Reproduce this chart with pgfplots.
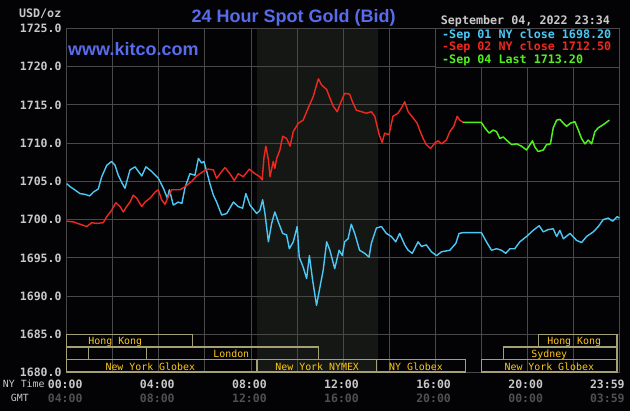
\documentclass[border=0pt]{standalone}
\usepackage{pgfplots}
\pgfplotsset{compat=1.18}
\usepackage{fontspec}
\newfontfamily\dmono{DejaVu Sans Mono}
\newfontfamily\lsans{Liberation Sans}
\definecolor{bg}{RGB}{3,3,6}
\definecolor{nymexbg}{RGB}{21,23,21}
\definecolor{gridgray}{RGB}{72,72,72}
\definecolor{labelgray}{RGB}{200,200,200}
\definecolor{gmtgray}{RGB}{80,80,80}
\definecolor{titleblue}{RGB}{88,108,235}
\definecolor{cyanl}{RGB}{75,200,245}
\definecolor{redl}{RGB}{240,40,30}
\definecolor{greenl}{RGB}{80,240,30}
\definecolor{boxk}{RGB}{165,160,115}
\definecolor{gold}{RGB}{255,200,20}
\newcommand\monob{\dmono\bfseries\fontsize{11.5}{14}\selectfont}
\newcommand\sess{\dmono\fontsize{9.9}{12}\selectfont\color{gold}}
\newcommand\tlab[2]{\textcolor{labelgray}{#1}\\\textcolor{gmtgray}{#2}}
\begin{document}
\begin{tikzpicture}
\useasboundingbox (0,0) rectangle (630pt,411pt);
\fill[bg] (0,0) rectangle (630pt,411pt);
\fill[nymexbg] (256.7pt,38.3pt) rectangle (377.8pt,382.7pt);
\begin{axis}[
  at={(66.7pt,38.3pt)}, anchor=south west,
  width=552.6pt, height=344.4pt, scale only axis,
  xmin=0, xmax=24, ymin=1680, ymax=1725,
  clip=false,
  xtick={0,2,4,6,8,10,12,14,16,18,20,22,24},
  xticklabels={{\tlab{00:00}{04:00}},{},{\tlab{04:00}{08:00}},{},{\tlab{08:00}{12:00}},{},{\tlab{12:00}{16:00}},{},{\tlab{16:00}{20:00}},{},{\tlab{20:00}{00:00}},{},{}},
  ytick={1680,1685,1690,1695,1700,1705,1710,1715,1720,1725},
  yticklabels={1680.0,1685.0,1690.0,1695.0,1700.0,1705.0,1710.0,1715.0,1720.0,1725.0},
  grid=major,
  major grid style={draw=gridgray, line width=0.8pt},
  axis line style={draw=gridgray, line width=0.8pt},
  major tick length=0pt,
  yticklabel style={font=\monob, text=labelgray, anchor=east, inner sep=0pt, xshift=-5pt},
  xticklabel style={font=\monob, anchor=north, inner sep=0pt, yshift=-7pt, xshift=-1.5pt, align=center},
]
% session boxes
\draw[boxk, line width=1.2pt] (axis cs:0,1685) rectangle (axis cs:5.47,1683.35);
\draw[boxk, line width=1.2pt] (axis cs:20.48,1685) rectangle (axis cs:23.9,1683.35);
\draw[boxk, line width=1.2pt] (axis cs:0,1683.35) rectangle (axis cs:0.94,1681.7);
\draw[boxk, line width=1.2pt] (axis cs:0.94,1683.35) rectangle (axis cs:3.47,1681.7);
\draw[boxk, line width=1.2pt] (axis cs:3.47,1683.35) rectangle (axis cs:10.92,1681.7);
\draw[boxk, line width=1.2pt] (axis cs:18.96,1683.35) rectangle (axis cs:23.9,1681.7);
\draw[boxk, line width=1.2pt] (axis cs:0,1681.7) rectangle (axis cs:8.25,1680.1);
\draw[boxk, line width=1.2pt] (axis cs:8.25,1681.7) rectangle (axis cs:13.46,1680.1);
\draw[boxk, line width=2pt] (axis cs:8.27,1681.7) -- (axis cs:8.27,1680.1);
\draw[boxk, line width=1.2pt] (axis cs:13.46,1681.7) rectangle (axis cs:17.33,1680.1);
\draw[boxk, line width=1.2pt] (axis cs:18.02,1681.7) rectangle (axis cs:23.9,1680.1);
\node[anchor=base, inner sep=0pt] at (axis cs:2.11,1683.71) {\sess Hong Kong};
\node[anchor=base, inner sep=0pt] at (axis cs:22.04,1683.71) {\sess Hong Kong};
\node[anchor=base, inner sep=0pt] at (axis cs:7.15,1682.01) {\sess London};
\node[anchor=base, inner sep=0pt] at (axis cs:20.96,1682.01) {\sess Sydney};
\node[anchor=base, inner sep=0pt] at (axis cs:3.63,1680.35) {\sess New York Globex};
\node[anchor=base, inner sep=0pt] at (axis cs:10.88,1680.35) {\sess New York NYMEX};
\node[anchor=base, inner sep=0pt] at (axis cs:15.17,1680.35) {\sess NY Globex};
\node[anchor=base, inner sep=0pt] at (axis cs:20.96,1680.35) {\sess New York Globex};
\node[font=\monob, anchor=north, inner sep=0pt, align=center] at ([yshift=-7pt]axis cs:23.48,1680) {\tlab{23:59}{03:59}};

% Sep 01 NY close
\addplot[cyanl, line width=1.4pt, line join=round] coordinates {
(0,1704.7)(0.15,1704.3)(0.3,1704.0)(0.58,1703.4)(0.8,1703.3)(1.0,1703.1)(1.16,1703.6)(1.37,1704.0)(1.52,1705.6)(1.74,1707.1)(1.95,1707.6)(2.1,1707.1)(2.24,1705.8)(2.4,1704.8)(2.53,1704.1)(2.75,1706.5)(2.97,1706.9)(3.11,1706.3)(3.26,1705.7)(3.44,1706.9)(3.69,1706.3)(3.98,1705.4)(4.2,1704.1)(4.37,1702.8)(4.46,1703.9)(4.63,1701.9)(4.85,1702.3)(5.0,1702.1)(5.14,1704.2)(5.35,1706.0)(5.57,1705.8)(5.72,1708.0)(5.86,1707.4)(5.96,1707.6)(6.08,1706.3)(6.22,1704.7)(6.37,1703.2)(6.51,1702.3)(6.73,1700.6)(6.95,1700.8)(7.24,1702.3)(7.45,1701.7)(7.64,1701.5)(7.78,1703.4)(7.96,1701.9)(8.25,1700.8)(8.39,1701.2)(8.51,1702.6)(8.61,1700.8)(8.76,1697.1)(8.9,1699.5)(9.04,1701.0)(9.19,1699.7)(9.38,1698.2)(9.55,1698.0)(9.67,1696.2)(9.84,1697.1)(10.01,1699.1)(10.1,1695.1)(10.27,1693.8)(10.42,1692.3)(10.54,1695.3)(10.68,1692.1)(10.85,1688.8)(11.0,1691.2)(11.14,1693.4)(11.29,1697.1)(11.43,1696.0)(11.64,1693.6)(11.83,1696.0)(11.97,1695.3)(12.07,1697.1)(12.22,1697.5)(12.36,1699.4)(12.51,1698.2)(12.72,1696.0)(12.94,1695.6)(13.13,1695.1)(13.23,1696.9)(13.45,1698.9)(13.67,1699.1)(13.88,1698.2)(14.1,1697.8)(14.29,1697.1)(14.46,1698.2)(14.68,1696.7)(14.83,1696.0)(15.01,1695.6)(15.26,1697.1)(15.41,1696.5)(15.62,1696.7)(15.84,1695.8)(16.06,1695.3)(16.28,1695.8)(16.64,1696.0)(16.9,1696.9)(17.04,1698.2)(17.22,1698.3)(18.01,1698.3)(18.23,1697.1)(18.45,1696.0)(18.67,1696.2)(18.88,1696.0)(19.07,1695.6)(19.25,1696.2)(19.46,1696.2)(19.68,1697.1)(19.97,1697.8)(20.26,1698.6)(20.52,1699.2)(20.7,1698.4)(20.91,1698.7)(21.13,1698.8)(21.28,1697.8)(21.42,1698.6)(21.57,1697.5)(21.86,1698.2)(22.14,1697.3)(22.36,1697.0)(22.58,1697.8)(22.87,1698.4)(23.09,1699.1)(23.3,1700.0)(23.52,1700.2)(23.71,1699.8)(23.91,1700.4)(24.0,1700.2)
};
% Sep 02 NY close
\addplot[redl, line width=1.4pt, line join=round] coordinates {
(0,1699.8)(0.29,1699.7)(0.58,1699.4)(0.87,1699.1)(1.09,1699.6)(1.3,1699.5)(1.59,1699.6)(1.74,1700.4)(1.95,1701.2)(2.13,1702.2)(2.32,1701.7)(2.46,1701.0)(2.6,1701.7)(2.75,1702.3)(2.89,1703.2)(3.04,1702.8)(3.26,1701.7)(3.4,1702.3)(3.62,1702.8)(3.84,1703.6)(3.98,1703.9)(4.12,1702.6)(4.27,1702.0)(4.41,1703.0)(4.56,1703.9)(4.92,1703.9)(5.14,1704.3)(5.43,1705.0)(5.64,1705.7)(5.93,1706.3)(6.15,1706.6)(6.37,1706.5)(6.51,1705.4)(6.66,1706.0)(6.87,1706.8)(7.09,1706.0)(7.28,1705.1)(7.45,1706.0)(7.67,1705.6)(7.93,1706.6)(8.18,1706.0)(8.39,1705.6)(8.49,1705.2)(8.57,1708.2)(8.65,1709.6)(8.76,1707.8)(8.83,1705.6)(8.97,1707.6)(9.04,1706.7)(9.12,1708.0)(9.26,1709.1)(9.38,1710.9)(9.55,1710.6)(9.7,1709.6)(9.84,1711.5)(10.06,1712.6)(10.27,1713.0)(10.49,1714.6)(10.71,1716.1)(10.85,1717.6)(10.93,1718.4)(11.07,1717.6)(11.29,1717.0)(11.43,1715.9)(11.58,1714.8)(11.75,1714.1)(11.86,1715.0)(12.07,1716.5)(12.29,1716.4)(12.41,1715.4)(12.58,1714.3)(12.8,1714.1)(13.01,1713.9)(13.23,1714.1)(13.38,1713.5)(13.57,1711.1)(13.7,1710.1)(13.81,1711.3)(14.0,1711.1)(14.17,1713.5)(14.39,1713.9)(14.54,1714.6)(14.68,1715.4)(14.83,1714.1)(15.04,1713.3)(15.22,1712.6)(15.33,1711.7)(15.48,1710.6)(15.62,1709.8)(15.8,1709.3)(15.99,1710.0)(16.13,1710.3)(16.28,1709.9)(16.49,1710.4)(16.64,1711.5)(16.81,1712.2)(16.96,1713.5)(17.07,1713.0)(17.22,1712.7)
};
% Sep 04 Last
\addplot[greenl, line width=1.5pt, line join=round] coordinates {
(17.22,1712.7)(18.01,1712.7)(18.16,1712.0)(18.35,1711.3)(18.52,1711.7)(18.67,1711.5)(18.81,1710.6)(18.96,1710.8)(19.1,1710.4)(19.32,1709.8)(19.54,1709.9)(19.75,1709.6)(19.97,1709.1)(20.12,1709.8)(20.23,1710.3)(20.33,1709.5)(20.48,1708.9)(20.7,1709.1)(20.84,1709.8)(21.01,1709.9)(21.13,1712.0)(21.28,1713.0)(21.42,1713.1)(21.57,1712.6)(21.71,1712.2)(21.88,1712.6)(22.07,1712.8)(22.22,1711.7)(22.36,1710.6)(22.51,1709.9)(22.65,1710.4)(22.8,1709.9)(22.94,1711.5)(23.09,1712.0)(23.3,1712.4)(23.57,1713.0)
};
\end{axis}
% legend box
\filldraw[fill=bg, draw=gridgray, line width=0.8pt] (435.3pt,382.7pt) rectangle (619.3pt,343.5pt);
\begin{scope}[every node/.style={anchor=base west, inner sep=0pt, font=\dmono\bfseries\fontsize{11.7}{14}\selectfont}]
\node[text=labelgray] at (440.7pt,386pt) {September 04, 2022 23:34};
\node[text=cyanl] at (442pt,372.3pt) {-Sep 01 NY close 1698.20};
\node[text=redl] at (442pt,360pt) {-Sep 02 NY close 1712.50};
\node[text=greenl] at (442pt,347.3pt) {-Sep 04 Last 1713.20};
\node[text=labelgray, anchor=base east] at (61.5pt,393.7pt) {USD/oz};
\end{scope}
\node[anchor=base west, inner sep=0pt, text=labelgray, font=\dmono\fontsize{9.9}{12}\selectfont] at (2.7pt,23.3pt) {NY Time};
\node[anchor=base west, inner sep=0pt, text=labelgray, font=\dmono\fontsize{9.9}{12}\selectfont] at (10.7pt,9.3pt) {GMT};
\node[anchor=base, inner sep=0pt, text=titleblue, font=\lsans\bfseries\fontsize{18}{20}\selectfont] at (293.7pt,388.3pt) {24 Hour Spot Gold (Bid)};
\node[anchor=base west, inner sep=0pt, text=titleblue, font=\lsans\bfseries\fontsize{18}{20}\selectfont] at (68pt,355pt) {www.kitco.com};
\end{tikzpicture}
\end{document}
